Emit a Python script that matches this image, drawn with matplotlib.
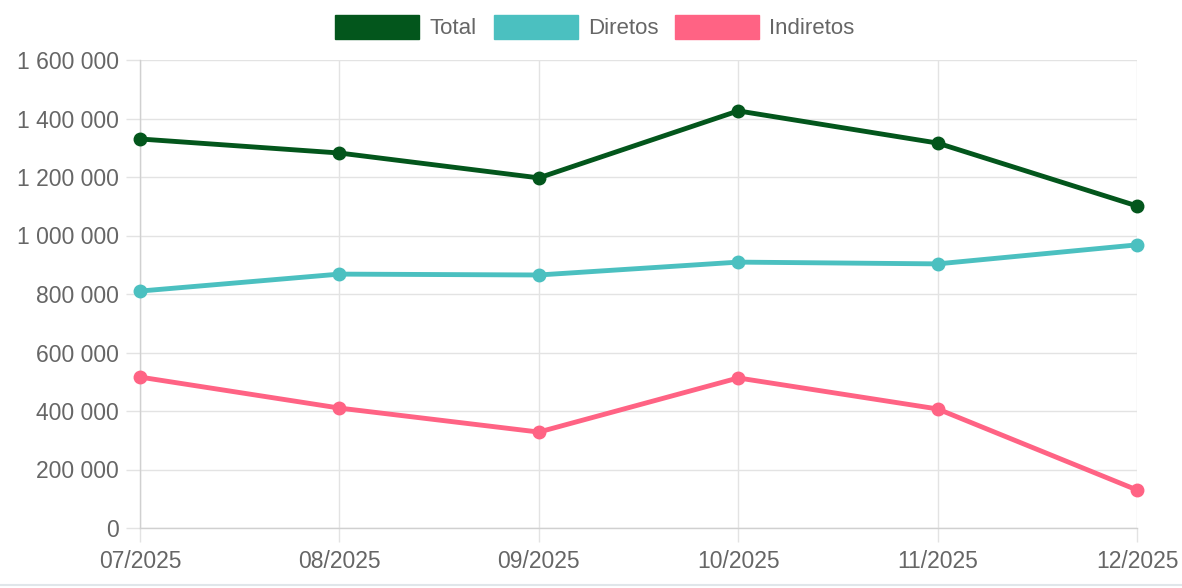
import matplotlib
matplotlib.use("Agg")
import matplotlib.pyplot as plt
from matplotlib.patches import Patch
from matplotlib.lines import Line2D
from matplotlib.ticker import FuncFormatter

# monthly values
months = ["07/2025", "08/2025", "09/2025", "10/2025", "11/2025", "12/2025"]
total = [1330000, 1282000, 1197000, 1426000, 1316000, 1101000]
diretos = [810000, 868000, 865000, 909000, 903000, 968000]
indiretos = [516000, 410000, 328000, 513000, 407000, 130000]

series = [
    ("Total", total, "#03561c"),
    ("Diretos", diretos, "#4bc0c0"),
    ("Indiretos", indiretos, "#ff6384"),
]

plt.rcParams['font.family'] = ['Liberation Sans', 'DejaVu Sans']

fig = plt.figure(figsize=(11.82, 5.88), dpi=100)
ax = fig.add_axes([140 / 1182, 60 / 588, (1137 - 140) / 1182, (528 - 60) / 588])

x = list(range(len(months)))
for name, vals, col in series:
    ax.plot(x, vals, color=col, lw=3.5, marker='o', markersize=9,
            solid_capstyle='round', zorder=3, clip_on=False, label=name)

ax.set_xlim(0, len(months) - 1)
ax.set_ylim(0, 1600000)
ax.set_yticks(range(0, 1600001, 200000))
ax.yaxis.set_major_formatter(FuncFormatter(lambda v, p: f"{int(v):,}".replace(",", " ")))
ax.set_xticks(x)
ax.set_xticklabels(months)

grid_col = "#e3e3e3"
ax.grid(True, color=grid_col, lw=1, zorder=0)
for s in ["top", "right"]:
    ax.spines[s].set_visible(False)
for s in ["left", "bottom"]:
    ax.spines[s].set_color("#d0d0d0")
    ax.spines[s].set_linewidth(1)
ax.tick_params(axis='both', colors=grid_col, length=10, width=1,
               labelcolor="#666666", labelsize=16.5)
ax.tick_params(axis='x', pad=6)
ax.tick_params(axis='y', pad=5)
for lbl in ax.get_xticklabels() + ax.get_yticklabels():
    lbl.set_clip_on(False)

handles = [Patch(facecolor=col, edgecolor=col, label=name) for name, _, col in series]
fig.legend(handles=handles, loc='center', bbox_to_anchor=(595 / 1182, 1 - 27 / 588),
           ncol=3, frameon=False, fontsize=16, labelcolor="#666666",
           handlelength=3.78, handleheight=1.35, handletextpad=0.45, columnspacing=0.77)

fig.add_artist(Line2D([0, 1], [3 / 588, 3 / 588], color="#e0e6ea", lw=1.5,
                      transform=fig.transFigure))

fig.savefig("out.png", dpi=100, facecolor="white")
